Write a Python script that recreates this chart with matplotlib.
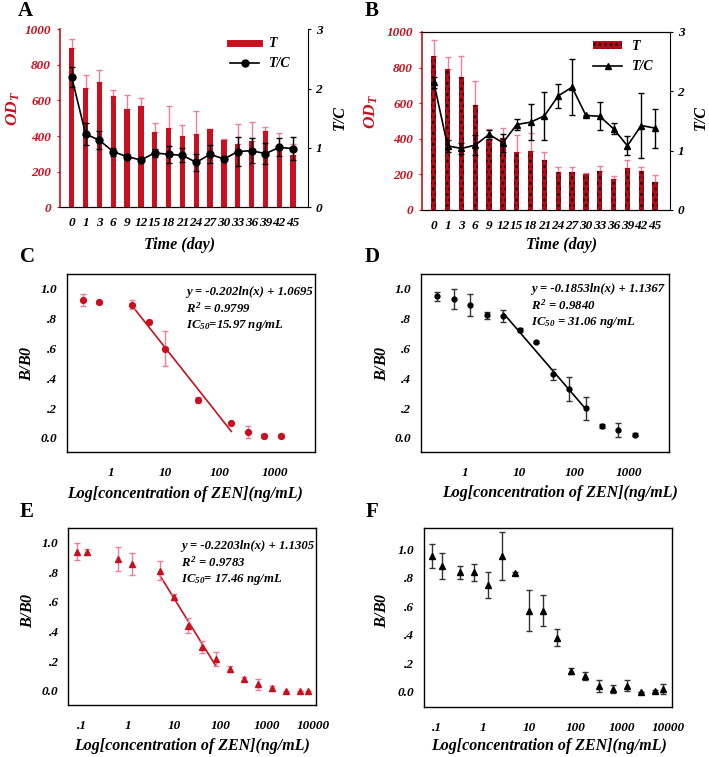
import matplotlib
matplotlib.use("Agg")
import matplotlib.pyplot as plt
import numpy as np
from matplotlib.lines import Line2D
from matplotlib.patches import Patch

plt.rcParams['font.family'] = ['Liberation Serif', 'DejaVu Serif']
plt.rcParams['font.weight'] = 'bold'
plt.rcParams['font.style'] = 'italic'
plt.rcParams['mathtext.fontset'] = 'custom'
plt.rcParams['mathtext.it'] = 'Liberation Serif:italic:bold'
plt.rcParams['mathtext.rm'] = 'Liberation Serif:italic:bold'
plt.rcParams['mathtext.bf'] = 'Liberation Serif:italic:bold'
plt.rcParams['hatch.linewidth'] = 1.4

# ---------------- data ----------------
days = ["0", "1", "3", "6", "9", "12", "15", "18", "21", "24", "27", "30", "33", "36", "39", "42", "45"]

A_T = [897, 669, 706, 625, 552, 567, 421, 444, 401, 412, 440, 378, 356, 373, 427, 322, 292]
A_T_err = [49, 76, 67, 34, 79, 49, 51, 123, 60, 131, 2, 4, 114, 108, 26, 94, 62]
A_TC = [2.19, 1.236, 1.129, 0.938, 0.854, 0.798, 0.916, 0.893, 0.876, 0.758, 0.893, 0.815, 0.938, 0.955, 0.904, 1.01, 0.989]
A_TC_err = [0.17, 0.19, 0.15, 0.065, 0.045, 0.02, 0.07, 0.14, 0.12, 0.14, 0.15, 0.02, 0.24, 0.21, 0.18, 0.15, 0.19]

B_T = [864, 791, 746, 589, 396, 407, 325, 333, 280, 213, 215, 204, 219, 172, 235, 221, 159]
B_T_err = [89, 67, 119, 134, 58, 55, 97, 101, 47, 26, 24, 3, 30, 21, 47, 22, 35]
B_TC = [2.153, 1.082, 1.037, 1.094, 1.273, 1.133, 1.441, 1.48, 1.587, 1.924, 2.07, 1.593, 1.58, 1.368, 1.082, 1.424, 1.38]
B_TC_err = [0.09, 0.1, 0.1, 0.17, 0.075, 0.15, 0.09, 0.3, 0.41, 0.2, 0.47, 0.01, 0.24, 0.09, 0.16, 0.55, 0.33]

C_x = [0.3125, 0.625, 2.5, 5, 10, 40, 160, 320, 640, 1280]
C_y = [0.928, 0.912, 0.894, 0.78, 0.598, 0.254, 0.099, 0.04, 0.013, 0.013]
C_err = [0.04, 0.015, 0.03, 0.01, 0.117, 0.02, 0.01, 0.042, 0.015, 0.015]
C_fit = (-0.202, 1.0695, 2.5, 160)

D_x = [0.3125, 0.625, 1.25, 2.5, 5, 10, 20, 40, 80, 160, 320, 640, 1280]
D_y = [0.951, 0.93, 0.89, 0.822, 0.82, 0.726, 0.643, 0.427, 0.33, 0.2, 0.079, 0.056, 0.022]
D_err = [0.03, 0.068, 0.075, 0.025, 0.04, 0.015, 0.005, 0.036, 0.08, 0.077, 0.012, 0.047, 0.012]
D_fit = (-0.1853, 1.1367, 5, 160)

E_x = [0.08, 0.13, 0.625, 1.25, 5, 10, 20, 40, 80, 160, 320, 640, 1280, 2560, 5120, 7800]
E_y = [0.94, 0.937, 0.89, 0.856, 0.81, 0.635, 0.44, 0.297, 0.214, 0.146, 0.079, 0.043, 0.016, 0.0, 0.0, 0.0]
E_err = [0.056, 0.02, 0.08, 0.075, 0.065, 0.02, 0.05, 0.04, 0.045, 0.018, 0.015, 0.036, 0.018, 0.0, 0.0, 0.0]
E_fit = (-0.2203, 1.1305, 5, 80)

F_x = [0.08, 0.13, 0.3125, 0.625, 1.25, 2.5, 5, 10, 20, 40, 80, 160, 320, 640, 1280, 2560, 5120, 7800]
F_y = [0.953, 0.883, 0.838, 0.838, 0.749, 0.953, 0.831, 0.569, 0.569, 0.379, 0.148, 0.112, 0.042, 0.019, 0.042, 0.0, 0.005, 0.019]
F_err = [0.085, 0.09, 0.048, 0.062, 0.09, 0.167, 0.01, 0.143, 0.11, 0.06, 0.02, 0.03, 0.043, 0.03, 0.038, 0.0, 0.005, 0.035]

bb_ticks = [0.0, 0.2, 0.4, 0.6, 0.8, 1.0]
bb_labels = ["0.0", ".2", ".4", ".6", ".8", "1.0"]

RED = '#c8101e'
PINK = '#ee7f9c'
TICKFS = 9.5
LABFS = 11.5

fig = plt.figure(figsize=(7.09, 7.57), dpi=100)
W, H = 709, 757

def add_ax(l, t, r, b):
    return fig.add_axes([l / W, 1 - b / H, (r - l) / W, (b - t) / H])

def ftext(x, y, s, **kw):
    fig.text(x / W, 1 - y / H, s, ha='center', va='center', **kw)

def time_panel(ax, T, Terr, TC, TCerr, marker, hatched, leg_anchor):
    x = np.arange(len(days))
    if hatched:
        ax.bar(x, T, width=0.38, color='#b00d18', edgecolor='#3a0000', hatch='...', linewidth=0, zorder=2)
    else:
        ax.bar(x, T, width=0.38, color=RED, linewidth=0, zorder=2)
    ax.errorbar(x, T, yerr=[np.zeros(len(T)), Terr], fmt='none', ecolor=PINK, elinewidth=1.0, capsize=2.2, capthick=1.0, zorder=1)
    ax.set_ylim(0, 1000)
    ax.set_xlim(-0.85, 17.08)
    ax.set_yticks([0, 200, 400, 600, 800, 1000])
    ax.set_xticks(x)
    ax.set_xticklabels(days)
    ax.tick_params(axis='x', length=0, pad=7, labelsize=TICKFS)
    ax.tick_params(axis='y', length=2.5, labelsize=TICKFS, labelcolor=RED, color=RED, pad=4)
    ax.spines['left'].set_color(RED)
    ax.spines['left'].set_linewidth(1.2)
    ax.spines['right'].set_visible(False)
    if not hatched:
        ax.spines['top'].set_visible(False)
    ax2 = ax.twinx()
    ax2.errorbar(x, TC, yerr=TCerr, fmt='-', marker=marker, color='black', ecolor='black',
                 markersize=5 if marker == 'o' else 4.5, lw=1.2, elinewidth=1.0, capsize=2.2, capthick=1.0)
    ax2.set_ylim(0, 3)
    ax2.set_yticks([0, 1, 2, 3])
    ax2.tick_params(axis='y', length=2.5, labelsize=TICKFS, pad=3)
    ax2.spines['left'].set_visible(False)
    if not hatched:
        ax2.spines['top'].set_visible(False)
    if hatched:
        h1 = Patch(facecolor='#b00d18', edgecolor='#3a0000', hatch='...', linewidth=0)
    else:
        h1 = Line2D([], [], color=RED, lw=5)
    h2 = Line2D([], [], color='black', marker=marker, lw=1.2, markersize=5)
    ax2.legend([h1, h2], ["T", "T/C"], loc='upper left', bbox_to_anchor=leg_anchor, frameon=False,
               fontsize=10, handlelength=2.1, handleheight=0.45, labelspacing=0.5, handletextpad=0.7,
               borderpad=0, borderaxespad=0)

axA = add_ax(60, 29.3, 308, 207.3)
time_panel(axA, A_T, A_T_err, A_TC, A_TC_err, 'o', False, ((230 - 60) / 248, 1 - (37 - 29.3) / 178))
axB = add_ax(422, 32, 670, 210)
time_panel(axB, B_T, B_T_err, B_TC, B_TC_err, '^', True, ((593 - 422) / 248, 1 - (40 - 32) / 178))

ftext(13, 109, r"$OD_T$", color=RED, fontsize=12.5, rotation=90)
ftext(340, 118, "T/C", fontsize=LABFS, rotation=90)
ftext(180, 245, "Time (day)", fontsize=LABFS)
ftext(371.7, 112, r"$OD_T$", color=RED, fontsize=12.5, rotation=90)
ftext(701, 118, "T/C", fontsize=LABFS, rotation=90)
ftext(562, 245, "Time (day)", fontsize=LABFS)

def curve_panel(ax, xs, ys, errs, color, ecolor, marker, ms, fit, xlim, ylim, xticks, xticklabels, eq=None, eqpos=None):
    ax.errorbar(xs, ys, yerr=errs, fmt=marker, color=color, ecolor=ecolor, markersize=ms,
                elinewidth=1.0, capsize=2.2, capthick=1.0, zorder=3)
    if fit is not None:
        a, b, x0, x1 = fit
        fx = np.array([x0, x1])
        ax.plot(fx, a * np.log(fx) + b, color=color, lw=1.2, zorder=2)
    ax.set_xscale('log')
    ax.set_xlim(*xlim)
    ax.set_ylim(*ylim)
    ax.set_xticks(xticks)
    ax.set_xticklabels(xticklabels)
    ax.minorticks_off()
    ax.set_yticks(bb_ticks)
    ax.set_yticklabels(bb_labels)
    ax.tick_params(axis='x', length=0, pad=11, labelsize=TICKFS)
    ax.tick_params(axis='y', length=0, pad=7, labelsize=TICKFS)
    for s in ax.spines.values():
        s.set_linewidth(1.0)
    if eq is not None:
        ax.text(eqpos[0], eqpos[1], eq, transform=ax.transAxes, fontsize=9.2, va='top', ha='left', linespacing=1.25)

axC = add_ax(67, 274, 315, 452)
curve_panel(axC, C_x, C_y, C_err, RED, PINK, 'o', 4.2, C_fit, (0.16, 5400), (-0.094, 1.1),
            [1, 10, 100, 1000], ["1", "10", "100", "1000"],
            "y = -0.202ln(x) + 1.0695\n$R^{2}$ = 0.9799\n$IC_{50}$=15.97 ng/mL", (0.48, 0.93))
axD = add_ax(420.7, 274, 669.3, 452)
curve_panel(axD, D_x, D_y, D_err, 'black', '#333333', 'o', 3.5, D_fit, (0.155, 5450), (-0.094, 1.1),
            [1, 10, 100, 1000], ["1", "10", "100", "1000"],
            "y = -0.1853ln(x) + 1.1367\n$R^{2}$ = 0.9840\n$IC_{50}$ = 31.06 ng/mL", (0.445, 0.95))
axE = add_ax(68.3, 528, 316, 705)
curve_panel(axE, E_x, E_y, E_err, RED, PINK, '^', 5, E_fit, (0.052, 11500), (-0.097, 1.1),
            [0.1, 1, 10, 100, 1000, 10000], [".1", "1", "10", "100", "1000", "10000"],
            "y = -0.2203ln(x) + 1.1305\n$R^{2}$ = 0.9783\n$IC_{50}$= 17.46 ng/mL", (0.455, 0.93))
axF = add_ax(424, 528, 671.7, 707)
curve_panel(axF, F_x, F_y, F_err, 'black', '#333333', '^', 4, None, (0.053, 11800), (-0.107, 1.15),
            [0.1, 1, 10, 100, 1000, 10000], [".1", "1", "10", "100", "1000", "10000"])

xl = "Log[concentration of ZEN](ng/mL)"
for (yx, yy, xx, xy) in [(26.7, 363, 185, 494), (381.7, 363, 560, 493), (28, 610, 191.7, 746), (382, 610, 549, 746)]:
    ftext(yx, yy, r"$B/B0$", fontsize=LABFS, rotation=90)
    ftext(xx, xy, xl, fontsize=LABFS)

for letter, x, y in [("A", 25, 11), ("B", 372, 11), ("C", 27, 257), ("D", 372, 257), ("E", 27, 512), ("F", 372, 512)]:
    ftext(x, y, letter, fontsize=15, fontweight='bold', style='normal')

fig.savefig("out.png", dpi=100)
